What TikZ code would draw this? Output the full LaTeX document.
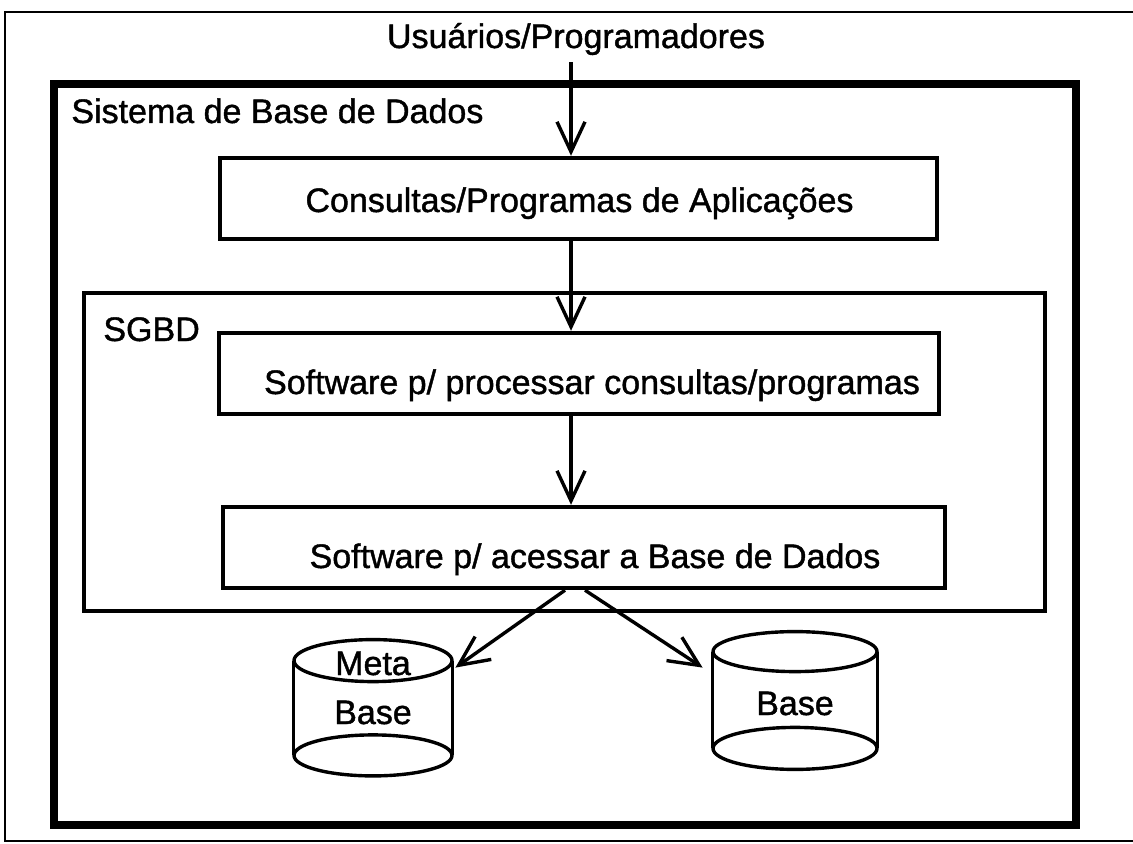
\documentclass[tikz,border=0pt]{standalone}
\usepackage{fontspec}
\setmainfont{Liberation Sans}[FakeBold=1.2]
\usetikzlibrary{arrows.meta,calc,fit}

\begin{document}
\begin{tikzpicture}[x=0.5pt,y=-0.5pt,
  txt/.style={inner sep=0pt, font=\fontsize{17pt}{20pt}\selectfont},
  outerframe/.style={draw, line width=1pt},
  sysframe/.style={draw, line width=4pt, inner sep=0pt},
  dbmsframe/.style={draw, line width=1.8pt, inner sep=0pt},
  stepbox/.style={draw, line width=2.2pt, inner sep=0pt},
  body/.style={inner sep=0pt},
  cyl/.style={line width=1.7pt},
  flow/.style={line width=1.7pt, -{Straight Barb[length=15pt,width=14pt,line width=1.7pt]}}
]
% page area
\useasboundingbox (0,0) rectangle (1133,844);
\fill[white] (0,0) rectangle (1133,844);
\draw[outerframe] (1133,12) -- (5,12) -- (5,841) -- (1133,841);

% database system frame
\node[sysframe, fit={(54,84) (1076,825)}] (sys) {};
\node[txt, anchor=base west] (systitle) at (71,123) {Sistema de Base de Dados};

% users on top
\node[txt, anchor=base] (usr) at (576,48) {Usuários/Programadores};
\coordinate (axis) at (571,0);

% applications box
\node[stepbox, fit={(220,158) (937,239)}] (b1) {};
\node[txt, anchor=base] (t1) at ($(b1.center)+(1,13.5)$) {Consultas/Programas de Aplicações};

% DBMS frame
\node[dbmsframe, fit={(84,293) (1045,611)}] (dbms) {};
\node[txt, anchor=base west] (dbmstitle) at (103,341) {SGBD};

\node[stepbox, fit={(219,333) (939,414)}] (b2) {};
\node[txt, anchor=base] (t2) at ($(b2.center)+(13,20.5)$) {Software p/ processar consultas/programas};

\node[stepbox, fit={(223,507) (945,588)}] (b3) {};
\node[txt, anchor=base] (t3) at ($(b3.center)+(11,20.5)$) {Software p/ acessar a Base de Dados};

% storage cylinders
\node[body, fit={(294,661) (452,755)}] (mb) {};
\draw[cyl] (mb.north west) -- (mb.south west) (mb.north east) -- (mb.south east);
\draw[cyl] (mb.north) ellipse [x radius=39.5pt, y radius=10.5pt];
\draw[cyl] (mb.south) ellipse [x radius=39.5pt, y radius=10.25pt];
\node[txt, anchor=base] (mbt1) at (373,675) {Meta};
\node[txt, anchor=base] (mbt2) at (373,724) {Base};

\node[body, fit={(713,652) (877,748)}] (db) {};
\draw[cyl] (db.north west) -- (db.south west) (db.north east) -- (db.south east);
\draw[cyl] (db.north) ellipse [x radius=41pt, y radius=10pt];
\draw[cyl] (db.south) ellipse [x radius=41pt, y radius=10.5pt];
\node[txt, anchor=base] (dbt) at (795,715) {Base};

% flow arrows
\draw[flow] ($(usr.south -| axis)+(0,7)$) -- (b1.north -| axis);
\draw[flow] (b1.south -| axis) -- (b2.north -| axis);
\draw[flow] (b2.south -| axis) -- (b3.north -| axis);
\draw[flow] ($(b3.south)+(-19,0)$) -- ($(mb.north east)+(3,7)$);
\draw[flow] ($(b3.south)+(1,0)$) -- ($(db.north west)+(-10,16)$);
\end{tikzpicture}
\end{document}
